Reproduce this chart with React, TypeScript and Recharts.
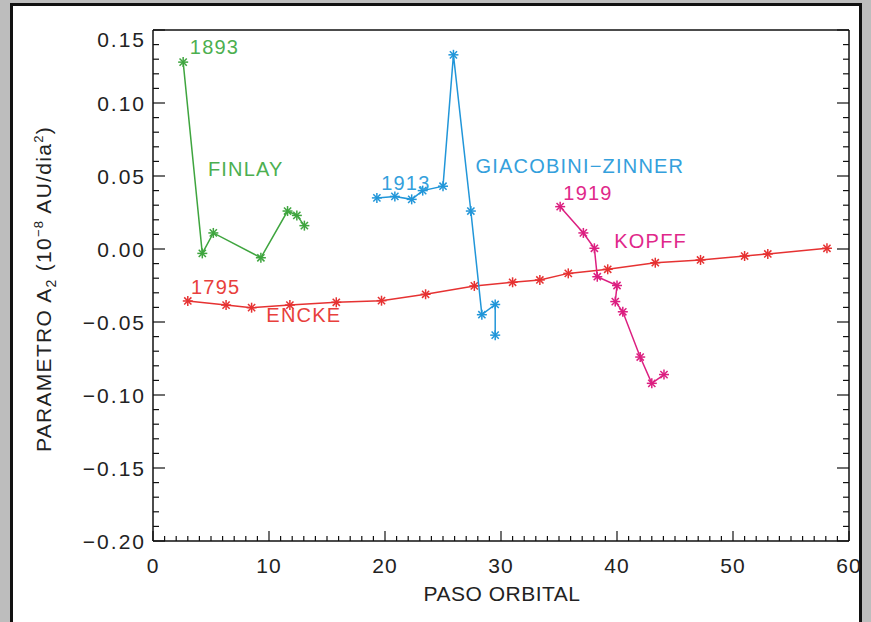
import React from 'react'
import { ScatterChart, XAxis, YAxis, Scatter, ReferenceDot } from 'recharts'

// Values (paso orbital vs A2)
const finlayX = [2.6, 4.25, 5.2, 9.3, 11.6, 12.4, 13.05]
const finlayY = [0.128, -0.003, 0.011, -0.006, 0.026, 0.023, 0.016]

const giacobiniX = [19.3, 20.85, 22.3, 23.25, 25.0, 25.9, 27.4, 28.35, 29.5, 29.5]
const giacobiniY = [0.035, 0.036, 0.034, 0.04, 0.043, 0.133, 0.026, -0.045, -0.038, -0.059]

const kopffX = [35.1, 37.1, 38.05, 38.3, 40.0, 39.85, 40.5, 42.0, 43.0, 44.05]
const kopffY = [0.029, 0.011, 0.0005, -0.019, -0.025, -0.036, -0.043, -0.074, -0.092, -0.086]

const enckeX = [3.0, 6.3, 8.5, 11.8, 15.8, 19.7, 23.5, 27.7, 31.0, 33.35, 35.8, 39.2, 43.3, 47.2, 51.0, 53.0, 58.1]
const enckeY = [-0.0356, -0.0384, -0.0402, -0.0384, -0.0365, -0.0354, -0.031, -0.0253, -0.0228, -0.0212, -0.0167, -0.0139, -0.0094, -0.0075, -0.0048, -0.0034, 0.0005]

const xMinorTicks = Array.from({ length: 61 }, (_, i) => i)
const yMinorTicks = Array.from({ length: 36 }, (_, i) => Math.round((-0.2 + i * 0.01) * 100) / 100)

const labelTexts = ['1893', 'FINLAY', '1913', 'GIACOBINI\u2212ZINNER', '1919', 'KOPFF', '1795', 'ENCKE']
const labelX = [5.3, 8.0, 21.8, 36.8, 37.5, 42.9, 5.4, 13.0]
const labelY = [0.1385, 0.055, 0.045, 0.0572, 0.0384, 0.0058, -0.0257, -0.0452]

const GREEN = '#3fa53f'
const BLUE = '#2196d9'
const RED = '#e63232'
const MAGENTA = '#dc1f80'
const labelColors = ['#4caf50', '#4caf50', '#34a0dc', '#34a0dc', '#e0288a', '#e0288a', '#e8403c', '#e8403c']

const FONT = '"Liberation Sans", Arial, sans-serif'

const zip = (xs: number[], ys: number[]) => xs.map((x, i) => ({ x, y: ys[i] }))

const series = [
  { name: 'Finlay', color: GREEN, data: zip(finlayX, finlayY) },
  { name: 'Encke', color: RED, data: zip(enckeX, enckeY) },
  { name: 'Giacobini-Zinner', color: BLUE, data: zip(giacobiniX, giacobiniY) },
  { name: 'Kopff', color: MAGENTA, data: zip(kopffX, kopffY) },
]

const isMajorX = (v: number) => v % 10 === 0
const isMajorY = (v: number) => Math.round(v * 100) % 5 === 0

const fmtY = (v: number) => (v < 0 ? '\u2212' : '') + Math.abs(v).toFixed(2)

// asterisk marker like the IDL psym=2
const makeStar = (color: string) => (props: any) => {
  const { cx, cy } = props
  const r = 5
  const d = 3.6
  return (
    <g stroke={color} strokeWidth={1.5}>
      <line x1={cx - r} y1={cy} x2={cx + r} y2={cy} />
      <line x1={cx} y1={cy - r} x2={cx} y2={cy + r} />
      <line x1={cx - d} y1={cy - d} x2={cx + d} y2={cy + d} />
      <line x1={cx - d} y1={cy + d} x2={cx + d} y2={cy - d} />
    </g>
  )
}

const BottomTick = (props: any) => {
  const { x, y, payload } = props
  const v = payload.value
  const major = isMajorX(v)
  return (
    <g>
      <line x1={x} y1={y} x2={x} y2={y - (major ? 10 : 5)} stroke="#111" strokeWidth={1.2} />
      {major && (
        <text x={x} y={y + 32} textAnchor="middle" fontSize={21} letterSpacing={1} fontFamily={FONT} fill="#222">
          {v}
        </text>
      )}
    </g>
  )
}

const TopTick = (props: any) => {
  const { x, y, payload } = props
  const major = isMajorX(payload.value)
  return <line x1={x} y1={y} x2={x} y2={y + (major ? 10 : 5)} stroke="#111" strokeWidth={1.2} />
}

const LeftTick = (props: any) => {
  const { x, y, payload } = props
  const v = payload.value
  const major = isMajorY(v)
  const dy = v === 0.15 ? 9 : 0
  return (
    <g>
      <line x1={x} y1={y} x2={x + (major ? 12 : 6)} y2={y} stroke="#111" strokeWidth={1.2} />
      {major && (
        <text x={x - 7} y={y + 8 + dy} textAnchor="end" fontSize={21} letterSpacing={2} fontFamily={FONT} fill="#222">
          {fmtY(v)}
        </text>
      )}
    </g>
  )
}

const RightTick = (props: any) => {
  const { x, y, payload } = props
  const major = isMajorY(payload.value)
  return <line x1={x} y1={y} x2={x - (major ? 12 : 6)} y2={y} stroke="#111" strokeWidth={1.2} />
}

const axisLine = { stroke: '#111', strokeWidth: 1.5 }

export default function App() {
  return (
    <div style={{ position: 'fixed', left: 0, top: 0, width: 871, height: 622, background: '#bdbdbd', overflow: 'hidden' }}>
      <div
        style={{
          position: 'absolute',
          left: 10,
          top: 3,
          width: 846,
          height: 640,
          background: '#fff',
          border: '3px solid #111',
        }}
      />
      <div style={{ position: 'absolute', left: 0, top: 0 }}>
        <ScatterChart width={871} height={622} margin={{ top: 29, right: 21, bottom: 80, left: 152 }}>
          <XAxis
            type="number"
            dataKey="x"
            domain={[0, 60]}
            ticks={xMinorTicks}
            interval={0}
            height={1}
            tickSize={0}
            tickMargin={0}
            tickLine={false}
            axisLine={axisLine}
            tick={<BottomTick />}
            allowDataOverflow
          />
          <XAxis
            xAxisId="top"
            orientation="top"
            type="number"
            domain={[0, 60]}
            ticks={xMinorTicks}
            interval={0}
            height={1}
            tickSize={0}
            tickMargin={0}
            tickLine={false}
            axisLine={axisLine}
            tick={<TopTick />}
            allowDataOverflow
          />
          <YAxis
            type="number"
            dataKey="y"
            domain={[-0.2, 0.15]}
            ticks={yMinorTicks}
            interval={0}
            width={1}
            tickSize={0}
            tickMargin={0}
            tickLine={false}
            axisLine={axisLine}
            tick={<LeftTick />}
            allowDataOverflow
          />
          <YAxis
            yAxisId="right"
            orientation="right"
            type="number"
            domain={[-0.2, 0.15]}
            ticks={yMinorTicks}
            interval={0}
            width={1}
            tickSize={0}
            tickMargin={0}
            tickLine={false}
            axisLine={axisLine}
            tick={<RightTick />}
            allowDataOverflow
          />
          {series.map((s) => (
            <Scatter
              key={s.name}
              name={s.name}
              data={s.data}
              line={{ stroke: s.color, strokeWidth: 1.5 }}
              lineType="joint"
              shape={makeStar(s.color)}
              isAnimationActive={false}
            />
          ))}
          {labelTexts.map((t, i) => (
            <ReferenceDot
              key={t}
              x={labelX[i]}
              y={labelY[i]}
              r={0}
              fill="none"
              stroke="none"
              ifOverflow="visible"
              label={{
                value: t,
                position: 'center',
                fill: labelColors[i],
                fontSize: 20,
                letterSpacing: 1.2,
                fontFamily: FONT,
              }}
            />
          ))}
        </ScatterChart>
      </div>
      <div
        style={{
          position: 'absolute',
          left: 45,
          top: 289,
          transform: 'translate(-50%, -50%) rotate(-90deg)',
          whiteSpace: 'nowrap',
          fontSize: 21,
          letterSpacing: 1.3,
          fontFamily: FONT,
          color: '#222',
        }}
      >
        PARAMETRO A<sub style={{ fontSize: 14 }}>2</sub> (10<sup style={{ fontSize: 13 }}>{'\u22128'}</sup> AU/dia
        <sup style={{ fontSize: 13 }}>2</sup>)
      </div>
      <div
        style={{
          position: 'absolute',
          left: 502,
          top: 594,
          transform: 'translate(-50%, -50%)',
          whiteSpace: 'nowrap',
          fontSize: 21,
          letterSpacing: 0.5,
          fontFamily: FONT,
          color: '#222',
        }}
      >
        PASO ORBITAL
      </div>
    </div>
  )
}
